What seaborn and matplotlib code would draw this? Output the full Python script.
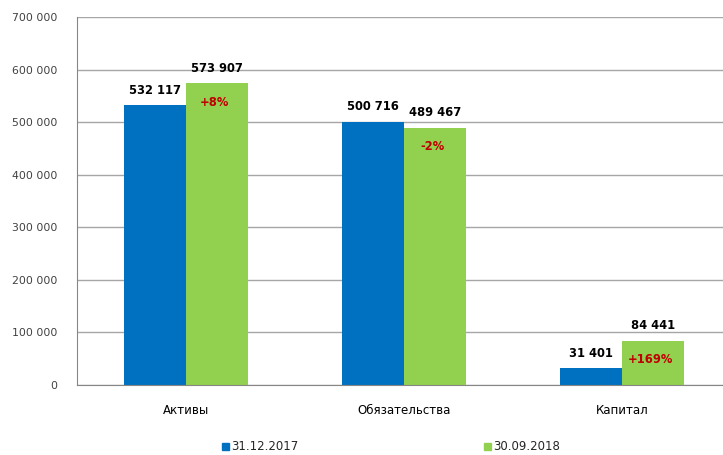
import pandas as pd
import seaborn as sns
import matplotlib.pyplot as plt
from matplotlib.patches import Patch

categories = ["Активы", "Обязательства", "Капитал"]
series_names = ["31.12.2017", "30.09.2018"]
values_2017 = [532117, 500716, 31401]
values_2018 = [573907, 489467, 84441]
changes = ["+8%", "-2%", "+169%"]
colors = ["#0070C0", "#92D050"]

df = pd.DataFrame({
    "category": categories * 2,
    "date": [series_names[0]] * 3 + [series_names[1]] * 3,
    "value": values_2017 + values_2018,
})

sns.set_style("white")
plt.rcParams["font.family"] = ["DejaVu Sans"]

fig = plt.figure(figsize=(7.23, 4.55), dpi=100)
ax = fig.add_axes([77 / 723, 1 - 385 / 455, 654 / 723, 368 / 455])

sns.barplot(data=df, x="category", y="value", hue="date", order=categories,
            hue_order=series_names, palette=colors, width=0.57,
            saturation=1, ax=ax, legend=False, zorder=2, linewidth=0)

ax.set_xlim(-0.5, 2.5)
ax.set_ylim(0, 700000)
ax.set_yticks(range(0, 700001, 100000))
ax.set_yticklabels([f"{v:,}".replace(",", " ") for v in range(0, 700001, 100000)])
ax.yaxis.grid(True, color="#a6a6a6", linewidth=1)
ax.set_axisbelow(True)
ax.tick_params(axis="y", labelsize=7.8, colors="#404040", length=0, pad=14)
ax.tick_params(axis="x", labelsize=8.5, colors="#000000", length=0, pad=14)
ax.set_xlabel("")
ax.set_ylabel("")
for s in ["top", "right"]:
    ax.spines[s].set_visible(False)
ax.spines["left"].set_color("#868686")
ax.spines["bottom"].set_color("#868686")

def fmt(v):
    return f"{v:,}".replace(",", " ")

for bars in ax.containers:
    for bar in bars:
        h = bar.get_height()
        ax.annotate(fmt(int(h)), (bar.get_x() + bar.get_width() / 2, h),
                    xytext=(0, 15), textcoords="offset pixels",
                    ha="center", va="center", fontsize=8.3, fontweight="bold",
                    color="#000000")

green_bars = ax.containers[1]
for bar, ch in zip(green_bars, changes):
    ax.annotate(ch, (bar.get_x() + bar.get_width() / 2, bar.get_height()),
                xytext=(-3, -19), textcoords="offset pixels",
                ha="center", va="center", fontsize=8.3, fontweight="bold",
                color="#C00000")

handles = [Patch(color=c) for c in colors]
fig.legend(handles, series_names, loc="center", bbox_to_anchor=(391 / 723, 1 - 447 / 455),
           ncol=2, frameon=False, fontsize=8.5, handlelength=0.6, handleheight=0.6,
           handletextpad=0.2, columnspacing=15.7)

fig.savefig("out.png", dpi=100)
